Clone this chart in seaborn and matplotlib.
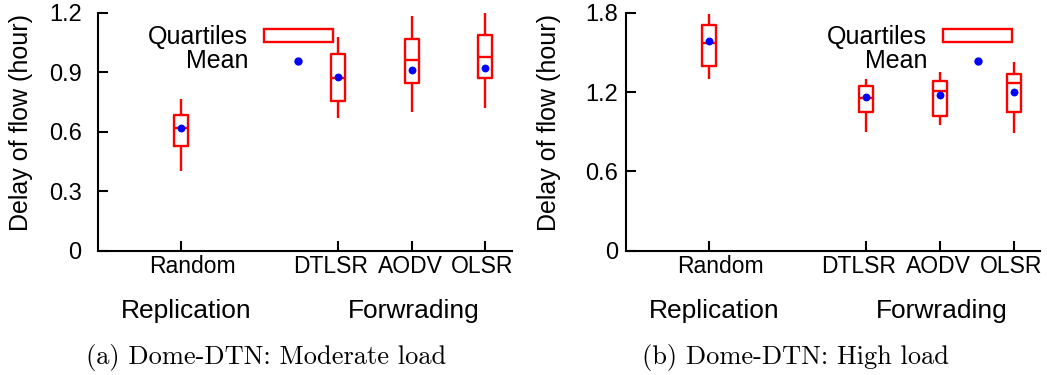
import pandas as pd
import seaborn as sns
import matplotlib.pyplot as plt
from matplotlib.patches import Rectangle
from matplotlib.transforms import blended_transform_factory

# categories and groups
categories = ["Random", "DTLSR", "AODV", "OLSR"]
groups = ["Replication", "Forwrading"]

# (a) moderate load: whisker low, quartiles, whisker high, mean
mod_low = [0.40, 0.67, 0.70, 0.72]
mod_q1 = [0.53, 0.756, 0.845, 0.869]
mod_med = [0.62, 0.872, 0.96, 0.976]
mod_q3 = [0.686, 0.993, 1.069, 1.089]
mod_high = [0.765, 1.079, 1.183, 1.20]
mod_mean = [0.617, 0.874, 0.909, 0.919]

# (b) high load
high_low = [1.30, 0.90, 0.95, 0.89]
high_q1 = [1.40, 1.05, 1.016, 1.049]
high_med = [1.573, 1.152, 1.208, 1.266]
high_q3 = [1.707, 1.243, 1.286, 1.336]
high_high = [1.79, 1.298, 1.351, 1.429]
high_mean = [1.583, 1.16, 1.18, 1.203]

# layout
xpos = [1.125, 3.25, 4.25, 5.25]
label_shift = [0.16, -0.1, -0.02, -0.04]
group_x = [1.2, 4.28]

sns.set_style("ticks")
plt.rcParams["font.family"] = ["Liberation Sans", "DejaVu Sans"]
plt.rcParams["text.color"] = "black"
plt.rcParams["axes.labelcolor"] = "black"
plt.rcParams["xtick.color"] = "black"
plt.rcParams["ytick.color"] = "black"


def five_num_frame(low, q1, med, q3, high):
    rows = []
    for p, vals in zip(xpos, zip(low, q1, med, q3, high)):
        for v in vals:
            rows.append({"pos": p, "delay": v})
    return pd.DataFrame(rows)


def draw_panel(ax, low, q1, med, q3, high, mean, ymax, yticks, yticklabels,
               leg_box, leg_text_x, leg_q_y, leg_m_y, leg_dot, ytick_pad):
    df = five_num_frame(low, q1, med, q3, high)
    sns.boxplot(data=df, x="pos", y="delay", native_scale=True, orient="x",
                whis=(0, 100), width=0.19, fill=False, color="red",
                linecolor="red", linewidth=1.7, showfliers=False,
                capprops={"linewidth": 0}, ax=ax)
    sns.scatterplot(x=xpos, y=mean, color="blue", s=32, linewidth=0,
                    zorder=5, ax=ax)

    ax.set_xlim(0, 5.61)
    ax.set_ylim(0, ymax)
    ax.set_xticks(xpos)
    ax.set_xticklabels([])
    ax.set_xticks([p + s for p, s in zip(xpos, label_shift)], categories, minor=True)
    ax.set_yticks(yticks, yticklabels)
    ax.tick_params(axis="both", which="major", direction="in", length=7,
                   width=1.5, color="black", labelsize=17)
    ax.tick_params(axis="y", pad=ytick_pad)
    ax.tick_params(axis="x", which="minor", length=0, pad=3, labelsize=16.5)
    ax.set_xlabel("")
    ax.set_ylabel("Delay of flow (hour)", fontsize=18)
    ax.yaxis.set_label_coords(-0.157, 0.54)
    for side in ["top", "right"]:
        ax.spines[side].set_visible(False)
    for side in ["left", "bottom"]:
        ax.spines[side].set_color("black")
        ax.spines[side].set_linewidth(1.5)

    # key
    x0, x1, y0, y1 = leg_box
    ax.add_patch(Rectangle((x0, y0), x1 - x0, y1 - y0, fill=False,
                           edgecolor="red", linewidth=1.7, clip_on=False))
    ax.text(leg_text_x, leg_q_y, "Quartiles", ha="right", va="baseline", fontsize=18)
    ax.text(leg_text_x, leg_m_y, "Mean", ha="right", va="baseline", fontsize=18)
    ax.plot([leg_dot[0]], [leg_dot[1]], "o", color="blue", markersize=6,
            markeredgewidth=0, clip_on=False)

    tr = blended_transform_factory(ax.transData, ax.figure.transFigure)
    for gx, g in zip(group_x, groups):
        ax.text(gx, 0.152, g, transform=tr, ha="center", va="baseline", fontsize=19)


fig = plt.figure(figsize=(10.47, 3.75), dpi=100)
ax1 = fig.add_axes([0.0933, 0.3315, 0.3957, 0.6345])
ax2 = fig.add_axes([0.598, 0.3315, 0.3954, 0.6345])

draw_panel(ax1, mod_low, mod_q1, mod_med, mod_q3, mod_high, mod_mean,
           1.2, [0, 0.3, 0.6, 0.9, 1.2], ["0", "0.3", "0.6", "0.9", "1.2"],
           (2.25, 3.19, 1.052, 1.118), 2.04, 1.042, 0.920, (2.714, 0.956), 11.5)
draw_panel(ax2, high_low, high_q1, high_med, high_q3, high_high, high_mean,
           1.8, [0, 0.6, 1.2, 1.8], ["0", "0.6", "1.2", "1.8"],
           (4.30, 5.23, 1.578, 1.677), 4.08, 1.566, 1.379, (4.77, 1.435), 6)

fig.text(266 / 1047, 0.029, "(a) Dome-DTN: Moderate load", ha="center",
         va="baseline", fontsize=19, family="cmr10")
fig.text(795 / 1047, 0.029, "(b) Dome-DTN: High load", ha="center",
         va="baseline", fontsize=19, family="cmr10")

fig.savefig("out.png", dpi=100)
